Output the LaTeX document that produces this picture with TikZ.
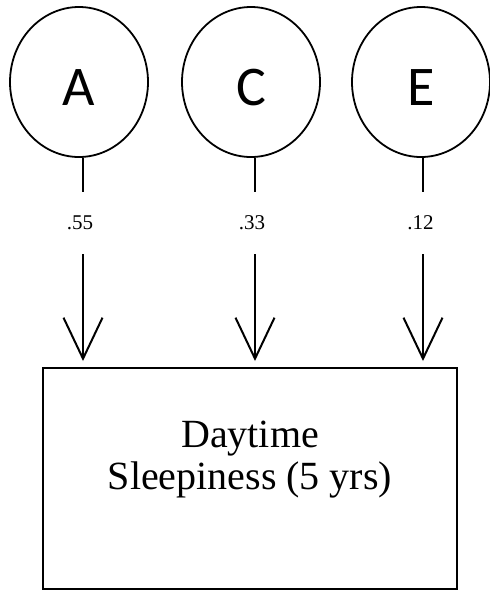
\documentclass[tikz,border=0pt]{standalone}
\usepackage{fontspec}
\setmainfont{Liberation Serif}
\newfontfamily\circfont{Carlito}
\usetikzlibrary{shapes.geometric,arrows.meta}
\begin{document}
\begin{tikzpicture}[x=1pt,y=-1pt,
  latent/.style={ellipse,draw,line width=1.8pt,minimum width=138pt,minimum height=150pt,inner sep=0pt},
  letter/.style={font=\circfont\fontsize{56}{60}\selectfont,inner sep=0pt,yshift=-5.5pt},
  coef/.style={minimum height=62pt,inner sep=0pt,font=\fontsize{21}{24}\selectfont},
  obs/.style={draw,line width=2pt,minimum width=414pt,minimum height=221pt,inner sep=0pt},
  conn/.style={line width=2pt},
  arr/.style={conn,-{Straight Barb[length=41pt,width=39pt]},shorten >=6pt}]
\useasboundingbox (0,0) rectangle (490,590);
\node[latent,label={[letter]center:A}] (A) at (79,82) {};
\node[latent,label={[letter]center:C}] (C) at (251,82) {};
\node[latent,label={[letter]center:E}] (E) at (421,82) {};
\node[obs] (box) at (250,478.5) {};
\node[align=center,font=\fontsize{40}{42}\selectfont,inner sep=0pt] (boxtext) at (250,460) {Daytime\\Sleepiness (5 yrs)};
\node[coef] (la) at (83,223) {\hspace*{-6pt}.55};
\node[coef] (lc) at (255,223) {\hspace*{-6pt}.33};
\node[coef] (le) at (423,223) {\hspace*{-5pt}.12};
\foreach \c/\l in {A/la,C/lc,E/le}{
  \draw[conn] (\c.south -| \l) -- (\l.north);
  \draw[arr] (\l.south) -- (\l.south |- box.north);
}
\end{tikzpicture}
\end{document}
